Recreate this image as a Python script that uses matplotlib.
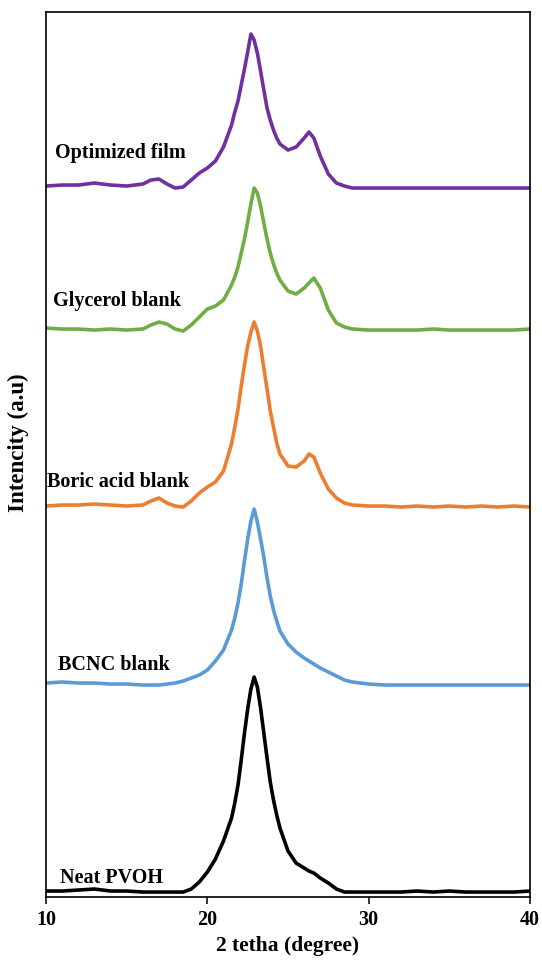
import matplotlib
matplotlib.use("Agg")
import matplotlib.pyplot as plt

plt.rcParams['font.family'] = ['Liberation Serif', 'DejaVu Serif']
plt.rcParams['font.weight'] = 'bold'

# 2-theta positions (degree), finer around the main reflection
two_theta = [10, 11, 12, 13, 14, 15, 16, 16.5, 17, 17.5, 18, 18.5, 19, 19.5, 20, 20.5, 21,
             21.5, 21.7, 21.9, 22.1, 22.3, 22.5, 22.7, 22.9, 23.1, 23.3, 23.5, 23.7, 23.9,
             24.1, 24.3, 24.5, 25, 25.5, 26, 26.3, 26.6, 27, 27.5, 28, 28.5, 29,
             30, 31, 32, 33, 34, 35, 36, 37, 38, 39, 40]

# intensities (a.u.) above each pattern's own baseline
neat_pvoh = [2, 2, 3, 4, 2, 2, 1, 1, 1, 1, 1, 1, 4, 11, 21, 34, 52,
             75, 90, 108, 133, 160, 184, 204, 216, 206, 185, 160, 135, 111,
             93, 78, 65, 42, 30, 25, 22, 20, 15, 10, 4, 1, 1,
             1, 1, 1, 2, 1, 2, 1, 1, 1, 1, 2]
bcnc_blank = [2, 3, 2, 2, 1, 1, 0, 0, 0, 1, 2, 4, 7, 10, 15, 24, 35,
              55, 67, 82, 101, 124, 146, 164, 176, 163, 146, 128, 107, 89,
              75, 64, 54, 41, 33, 27, 24, 21, 17, 13, 9, 5, 3,
              1, 0, 0, 0, 0, 0, 0, 0, 0, 0, 0]
boric_blank = [1, 2, 2, 3, 2, 1, 2, 6, 9, 4, 1, 0, 6, 14, 20, 25, 36,
               63, 80, 98, 121, 142, 161, 175, 185, 176, 161, 139, 118, 96,
               80, 64, 53, 41, 40, 46, 53, 50, 34, 18, 9, 4, 2,
               1, 1, 0, 1, 0, 1, 0, 1, 0, 1, 0]
glycerol_blank = [2, 1, 1, 0, 1, 0, 1, 5, 8, 6, 1, -1, 5, 13, 21, 24, 30,
                  45, 53, 63, 77, 91, 108, 126, 142, 137, 124, 107, 91, 77,
                  66, 57, 50, 39, 36, 42, 47, 52, 42, 20, 7, 3, 1,
                  0, 0, 0, 0, 1, 0, 0, 0, 0, 0, 1]
optimized_film = [2, 3, 3, 5, 3, 2, 4, 8, 9, 4, 0, 1, 8, 15, 20, 27, 41,
                  63, 76, 87, 103, 119, 136, 154, 148, 135, 117, 98, 80, 68,
                  58, 50, 44, 38, 41, 50, 56, 50, 32, 14, 5, 2, 0,
                  0, 0, 0, 0, 0, 0, 0, 0, 0, 0, 0]

names = ['Neat PVOH', 'BCNC blank', 'Boric acid blank', 'Glycerol blank', 'Optimized film']
offsets = [4, 212, 390, 567, 709]
colors = ['#000000', '#5B9BD5', '#ED7D31', '#70AD47', '#7030A0']
series = [neat_pvoh, bcnc_blank, boric_blank, glycerol_blank, optimized_film]

# label anchors (left edge, vertical centre) in data coords
label_pos = [(10.87, 19), (10.74, 232), (10.06, 415), (10.43, 596), (10.56, 744)]

fig = plt.figure(figsize=(5.42, 9.63), dpi=100)
ax = fig.add_axes([0.0849, 0.0685, 0.893, 0.919])

for y, off, c, name, (lx, ly) in zip(series, offsets, colors, names, label_pos):
    ax.plot(two_theta, [v + off for v in y], color=c, lw=2.6,
            solid_joinstyle='round', solid_capstyle='round')
    ax.text(lx, ly, name, fontsize=14.5, fontweight='bold', ha='left', va='center')

ax.set_xlim(10, 40)
ax.set_ylim(0, 885)
ax.set_xticks([10, 20, 30, 40])
ax.set_yticks([])
ax.tick_params(axis='x', direction='out', length=5, width=1.1, labelsize=14.5, pad=4)
for lab in ax.get_xticklabels():
    lab.set_fontweight('bold')
for sp in ax.spines.values():
    sp.set_linewidth(1.2)

ax.set_xlabel('2 tetha (degree)', fontsize=15.5, fontweight='bold', labelpad=5)
ax.set_ylabel('Intencity (a.u)', fontsize=16.5, fontweight='bold')
ax.yaxis.set_label_coords(-0.035, 0.513)

fig.savefig('out.png', dpi=100)
